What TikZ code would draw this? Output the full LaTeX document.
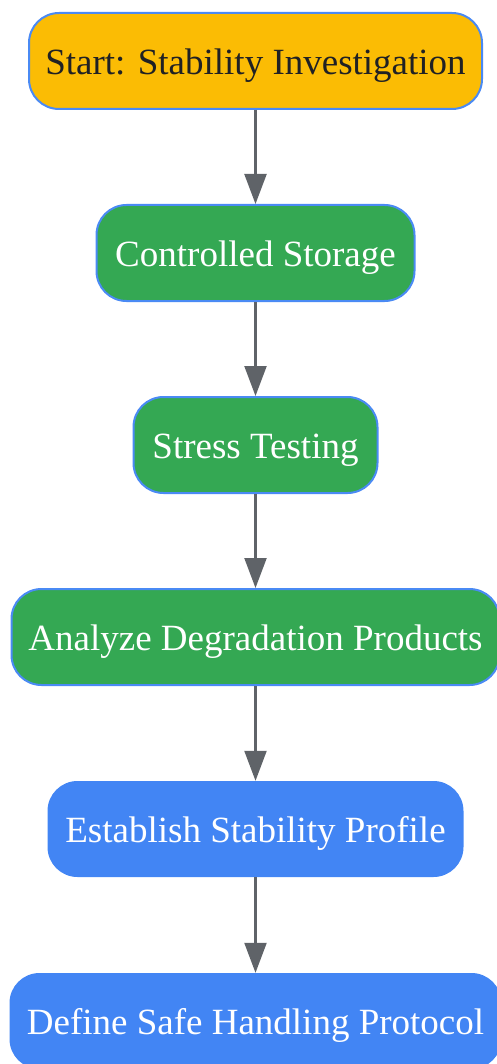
\documentclass[tikz,border=0pt]{standalone}
\usepackage{fontspec}
\setmainfont{Liberation Serif}
\usetikzlibrary{arrows.meta}
\definecolor{gyellow}{HTML}{FBBC04}
\definecolor{ggreen}{HTML}{34A853}
\definecolor{gblue}{HTML}{4285F4}
\definecolor{gborder}{HTML}{4A8AF4}
\definecolor{gedge}{HTML}{5F6368}
\definecolor{gtext}{HTML}{202124}
\tikzset{
  box/.style={rounded corners=30pt, minimum height=96pt, inner sep=0pt, text height=27pt, text depth=0pt, font=\fontsize{37}{42}\selectfont},
  startbox/.style={box, fill=gyellow, draw=gborder, line width=2pt, text=gtext},
  greenbox/.style={box, fill=ggreen, draw=gborder, line width=2pt, text=white},
  bluebox/.style={box, fill=gblue, text=white},
  flow/.style={draw=gedge, line width=2.2pt, -{Triangle[length=30pt,width=22pt]}}
}
\begin{document}
\begin{tikzpicture}[x=1pt,y=-1pt]
\useasboundingbox (0,0) rectangle (497,1064);
\begin{scope}
\clip (0,0) rectangle (497,1064);
\node[startbox, minimum width=453pt] (n1) at (255.5,61) {Start: Stability Investigation};
\node[greenbox, minimum width=318pt] (n2) at (255.5,253) {Controlled Storage};
\node[greenbox, minimum width=244pt] (n3) at (255.5,445) {Stress Testing};
\node[greenbox, minimum width=488pt] (n4) at (255.5,637) {Analyze Degradation Products};
\node[bluebox, minimum width=416pt] (n5) at (255.5,829) {Establish Stability Profile};
\node[bluebox, minimum width=492pt] (n6) at (255.5,1021) {Define Safe Handling Protocol};
\end{scope}
\draw[flow] (n1) -- (n2);
\draw[flow] (n2) -- (n3);
\draw[flow] (n3) -- (n4);
\draw[flow] (n4) -- (n5);
\draw[flow] (n5) -- (n6);
\end{tikzpicture}
\end{document}
